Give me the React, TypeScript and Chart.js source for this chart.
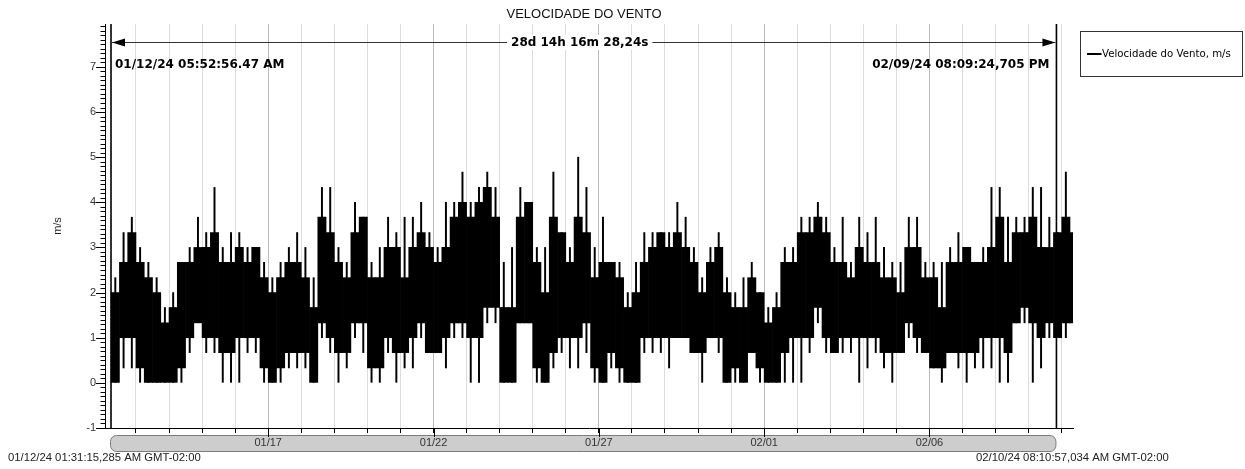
import React, { useEffect, useRef } from 'react';
import { Chart, registerables } from 'chart.js';

Chart.register(...registerables);

// Time axis in days since 01/12/24 00:00
const X_MIN = 0.063371; // 01/12/24 01:31:15,285 AM
const X_MAX = 29.340938; // 02/10/24 08:10:57,034 AM
const CURSOR_LEFT = 0.245098; // 01/12/24 05:52:56.47 AM
const CURSOR_RIGHT = 28.839869; // 02/09/24 08:09:24,705 PM
const BIN_START = 0.25;
const BIN_DAYS = 0.25;

const TICK_DAYS = [5, 10, 15, 20, 25];
const TICK_LABELS = ['01/17', '01/22', '01/27', '02/01', '02/06'];
const GRID_DAYS = [1, 2, 3, 4, 5, 6, 7, 8, 9, 10, 11, 12, 13, 14, 15, 16, 17, 18, 19, 20, 21, 22, 23, 24, 25, 26, 27, 28, 29];
const Y_TICKS = [-1, 0, 1, 2, 3, 4, 5, 6, 7];

const TITLE = 'VELOCIDADE DO VENTO';
const SERIES_LABEL = 'Velocidade do Vento, m/s';
const Y_TITLE = 'm/s';
const LEFT_STAMP = '01/12/24 05:52:56.47 AM';
const RIGHT_STAMP = '02/09/24 08:09:24,705 PM';
const SPAN_LABEL = '28d 14h 16m 28,24s';
const AXIS_START_TEXT = '01/12/24 01:31:15,285 AM GMT-02:00';
const AXIS_END_TEXT = '02/10/24 08:10:57,034 AM GMT-02:00';

// Wind speed envelope per 6-hour bin (m/s): dense band and extreme spikes
const CORE_LO = [
  0, 1, 1, 0.33, 0, 0, 0, 0, 0.33, 1,
  1.33, 1, 1, 0.67, 0.67, 1, 1, 1, 0.33, 0,
  0.33, 0.67, 0.67, 0.67, 0, 1.33, 1, 0.67, 0.67, 1.33,
  1.33, 0.33, 0.33, 1, 0.67, 0.67, 1, 1.33, 0.67, 0.67,
  1, 1.33, 1.33, 1, 1, 1.67, 1.67, 0, 0, 1.33,
  1.33, 0.33, 0, 0.67, 1, 1, 1, 1.33, 0.33, 0,
  0.67, 0.33, 0, 0, 1, 1, 1, 1, 1, 1,
  0.67, 0.67, 1, 1, 0, 0.33, 0, 0.67, 0.33, 0,
  0, 0.67, 1, 1, 1, 1.67, 1, 0.67, 1, 1,
  1, 1, 1, 0.67, 0.67, 0.67, 1.33, 1, 0.67, 0.33,
  0.33, 0.67, 0.67, 0.67, 0.67, 1, 1, 1, 0.67, 1.33,
  1.67, 1.33, 1, 1.33, 1, 1.33, 1.33,
];
const CORE_HI = [
  2, 2.67, 3.33, 2.67, 2.33, 2, 1.33, 1.67, 2.67, 2.67,
  3, 3, 3.33, 2.67, 2.67, 3, 2.67, 3, 2.33, 2,
  2.33, 2.67, 2.67, 2.33, 1.67, 3.67, 3.33, 2.67, 2.33, 3.33,
  3.67, 2.33, 2.33, 3, 3, 2.33, 3, 3.33, 3, 2.67,
  3, 3.67, 4, 3.67, 4, 4.33, 3.67, 1.67, 1.67, 3.67,
  4, 2.67, 2, 3.67, 3.33, 2.67, 3.67, 3.33, 2.33, 2.67,
  2.67, 2.33, 1.67, 2, 2.67, 3, 3.33, 3, 3.33, 3,
  2.67, 2, 2.67, 3, 2, 1.67, 1.67, 2.33, 2, 1.33,
  1.67, 2.67, 2.67, 3.33, 3.33, 3.67, 3.33, 2.67, 2.67, 2.33,
  3, 2.67, 2.67, 2.33, 2.33, 2, 3, 3, 2.33, 2.33,
  1.67, 2.67, 2.67, 3, 2.67, 2.67, 3, 3.67, 2.67, 3.33,
  3.33, 3.67, 3, 3, 3.33, 3.67, 3.33,
];
const SPIKE_LO = [
  0, 0.33, 0.33, 0, 0, 0, 0, 0, 0, 0.67,
  1.33, 0.67, 0.67, 0, 0, 0, 0.67, 0.67, 0, 0,
  0, 0.33, 0.33, 0.33, 0, 1, 0.67, 0, 0.33, 1,
  0.67, 0, 0, 0.67, 0, 0.33, 0.33, 1, 0.67, 0.67,
  0.33, 1, 1, 0, 0, 1.33, 1.33, 0, 0, 1.33,
  1.33, 0, 0, 0.33, 0.67, 0.33, 0.33, 0.67, 0, 0,
  0.33, 0, 0, 0, 0.67, 0.67, 0.67, 0.33, 1, 1,
  0.67, 0, 1, 0.67, 0, 0, 0, 0.67, 0, 0,
  0, 0, 0, 0, 0.67, 1.33, 0.67, 0.67, 0.67, 0.67,
  0, 0.33, 0.67, 0.33, 0, 0.67, 1, 0.67, 0.67, 0.33,
  0, 0.67, 0.33, 0, 0.33, 0.33, 0.33, 0, 0, 1.33,
  1.33, 0, 0.33, 1, 1, 1, 1.33,
];
const SPIKE_HI = [
  2.33, 3.33, 3.67, 3, 2.67, 2.33, 1.67, 2, 2.67, 3,
  3.67, 3.33, 4.33, 3, 3.33, 3.33, 3, 3, 2.67, 2.33,
  2.67, 3, 3.33, 3, 2.33, 4.33, 4.33, 3, 2.67, 4,
  3.67, 2.67, 3, 3.67, 3.33, 3.67, 3.67, 4, 3.33, 3,
  4, 4, 4.67, 4, 4.33, 4.67, 4.33, 2.67, 3, 4.33,
  4, 3, 3, 4.67, 3.33, 3, 5, 4.33, 3, 3.67,
  2.67, 2.67, 2, 2.67, 3.33, 3.33, 3.33, 3.33, 4, 3.67,
  3, 2.33, 3, 3.33, 2.33, 2, 2.33, 2.67, 2, 1.67,
  2, 3, 3, 3.67, 3.67, 4, 3.67, 3, 3.67, 2.67,
  3.67, 3.33, 3.67, 3, 2.67, 2.67, 3.67, 3.67, 2.67, 2.67,
  2.67, 3, 3.33, 3, 2.67, 3, 4.33, 4.33, 3.67, 3.67,
  3.67, 4.33, 4.33, 3.67, 3.33, 4.67, 4.33,
];

const BOLD = 'bold 12px "DejaVu Sans"';
const SANS = '"Liberation Sans", Arial, sans-serif';

function roundedRect(ctx: CanvasRenderingContext2D, x: number, y: number, w: number, h: number, r: number) {
  ctx.beginPath();
  ctx.moveTo(x + r, y);
  ctx.lineTo(x + w - r, y);
  ctx.arcTo(x + w, y, x + w, y + r, r);
  ctx.lineTo(x + w, y + h - r);
  ctx.arcTo(x + w, y + h, x + w - r, y + h, r);
  ctx.lineTo(x + r, y + h);
  ctx.arcTo(x, y + h, x, y + h - r, r);
  ctx.lineTo(x, y + r);
  ctx.arcTo(x, y, x + r, y, r);
  ctx.closePath();
}

const overlay = {
  id: 'overlay',
  beforeDraw(chart: any) {
    const { ctx, chartArea: a } = chart;
    const xs = chart.scales.x;
    const l = xs.getPixelForValue(CURSOR_LEFT);
    const r = xs.getPixelForValue(CURSOR_RIGHT);
    ctx.save();
    ctx.fillStyle = '#ffffff';
    ctx.fillRect(0, 0, chart.width, chart.height);
    roundedRect(ctx, Math.round(l) - 0.5, a.bottom + 7.5, r - l, 16, 6);
    ctx.fillStyle = '#cdcdcd';
    ctx.fill();
    ctx.strokeStyle = '#7c7c7c';
    ctx.lineWidth = 1;
    ctx.stroke();
    ctx.restore();
  },
  afterDraw(chart: any) {
    const { ctx, chartArea: a } = chart;
    const xs = chart.scales.x;
    const ys = chart.scales.y;
    const l = xs.getPixelForValue(CURSOR_LEFT);
    const r = xs.getPixelForValue(CURSOR_RIGHT);
    ctx.save();

    // y-axis major / minor tick marks
    ctx.strokeStyle = '#000';
    ctx.lineWidth = 1;
    ctx.beginPath();
    for (let k = Math.round(ys.min * 10); k <= Math.floor(ys.max * 10); k++) {
      const y = Math.round(ys.getPixelForValue(k / 10)) + 0.5;
      const len = k % 10 === 0 ? 9 : 4.5;
      ctx.moveTo(a.left - len, y);
      ctx.lineTo(a.left, y);
    }
    ctx.stroke();

    // longer ticks at labelled dates
    ctx.beginPath();
    TICK_DAYS.forEach((d) => {
      const x = Math.round(xs.getPixelForValue(d)) + 0.5;
      ctx.moveTo(x, a.bottom);
      ctx.lineTo(x, a.bottom + 9);
    });
    ctx.stroke();

    // cursors
    ctx.lineWidth = 1.6;
    ctx.strokeStyle = '#000';
    [l, r].forEach((x) => {
      ctx.beginPath();
      ctx.moveTo(x, a.top);
      ctx.lineTo(x, a.bottom);
      ctx.stroke();
    });

    // measurement arrow
    const my = a.top + 18;
    ctx.lineWidth = 1;
    ctx.strokeStyle = '#333';
    ctx.beginPath();
    ctx.moveTo(l + 1, my + 0.5);
    ctx.lineTo(r - 1, my + 0.5);
    ctx.stroke();
    ctx.fillStyle = '#000';
    ctx.beginPath();
    ctx.moveTo(l + 1, my + 0.5);
    ctx.lineTo(l + 14, my - 3.5);
    ctx.lineTo(l + 14, my + 4.5);
    ctx.closePath();
    ctx.fill();
    ctx.beginPath();
    ctx.moveTo(r - 1, my + 0.5);
    ctx.lineTo(r - 14, my - 3.5);
    ctx.lineTo(r - 14, my + 4.5);
    ctx.closePath();
    ctx.fill();

    ctx.font = BOLD;
    ctx.textBaseline = 'middle';
    const mid = (l + r) / 2 - 4;
    const tw = ctx.measureText(SPAN_LABEL).width;
    ctx.fillStyle = '#fff';
    ctx.fillRect(mid - tw / 2 - 4, my - 7, tw + 8, 15);
    ctx.fillStyle = '#000';
    ctx.textAlign = 'center';
    ctx.fillText(SPAN_LABEL, mid, my + 1);

    // cursor time stamps
    ctx.textAlign = 'left';
    ctx.fillText(LEFT_STAMP, l + 4, a.top + 41);
    ctx.textAlign = 'right';
    ctx.fillText(RIGHT_STAMP, r - 7, a.top + 41);

    // title
    ctx.font = '13px ' + SANS;
    ctx.fillStyle = '#111';
    ctx.textAlign = 'center';
    ctx.fillText(TITLE, (a.left + a.right) / 2 - 5, 14);

    // y-axis title
    ctx.save();
    ctx.translate(58, 226);
    ctx.rotate(-Math.PI / 2);
    ctx.font = '11px ' + SANS;
    ctx.fillStyle = '#222';
    ctx.textAlign = 'center';
    ctx.fillText(Y_TITLE, 0, 0);
    ctx.restore();

    // legend
    const lx = a.right + 7.5;
    const ly = a.top + 7.5;
    ctx.strokeStyle = '#333';
    ctx.lineWidth = 1;
    ctx.strokeRect(lx, ly, 162, 45);
    ctx.strokeStyle = '#000';
    ctx.lineWidth = 2;
    ctx.beginPath();
    ctx.moveTo(lx + 6.5, ly + 22.5);
    ctx.lineTo(lx + 21, ly + 22.5);
    ctx.stroke();
    ctx.font = '10.2px "DejaVu Sans"';
    ctx.fillStyle = '#000';
    ctx.textAlign = 'left';
    ctx.fillText(SERIES_LABEL, lx + 21.5, ly + 23);

    // axis range texts
    ctx.font = '11.3px ' + SANS;
    ctx.fillStyle = '#222';
    ctx.textAlign = 'left';
    ctx.fillText(AXIS_START_TEXT, 8, 458);
    ctx.fillText(AXIS_END_TEXT, 976, 458);

    ctx.restore();
  },
};

export default function App() {
  const ref = useRef<HTMLCanvasElement>(null);

  useEffect(() => {
    document.body.style.margin = '0';
    const canvas = ref.current;
    if (!canvas) return;
    const centers = CORE_LO.map((_, i) => BIN_START + BIN_DAYS * (i + 0.5));
    const core = centers.map((x, i) => ({ x, y: [CORE_LO[i], CORE_HI[i]] }));
    const spikes = centers.map((x, i) => ({ x, y: [SPIKE_LO[i], SPIKE_HI[i]] }));

    const chart = new Chart(canvas, {
      type: 'bar',
      data: {
        datasets: [
          {
            label: SERIES_LABEL,
            data: core as any,
            backgroundColor: '#000',
            borderWidth: 0,
            barPercentage: 1,
            categoryPercentage: 1,
            grouped: false,
          } as any,
          {
            label: SERIES_LABEL + ' (extremes)',
            data: spikes as any,
            backgroundColor: '#000',
            borderWidth: 0,
            barThickness: 1.3,
            grouped: false,
          } as any,
        ],
      },
      options: {
        responsive: false,
        animation: false,
        events: [],
        layout: { padding: { left: 0, right: 172, top: 24, bottom: 0 } },
        plugins: {
          legend: { display: false },
          tooltip: { enabled: false },
          title: { display: false },
        },
        scales: {
          x: {
            type: 'linear',
            min: X_MIN,
            max: X_MAX,
            offset: false,
            afterFit: (s: any) => { s.height = 41; },
            afterBuildTicks: (s: any) => { s.ticks = GRID_DAYS.map((v) => ({ value: v })); },
            grid: {
              offset: false,
              color: (c: any) => (c.tick && TICK_DAYS.includes(c.tick.value) ? '#b9b9b9' : '#dcdcdc'),
              lineWidth: 1,
              drawTicks: true,
              tickLength: 5,
              tickColor: '#000',
            },
            border: { display: true, color: '#000', width: 1 },
            ticks: {
              autoSkip: false,
              maxRotation: 0,
              minRotation: 0,
              padding: 3,
              color: '#333',
              font: { family: SANS, size: 11 },
              callback: (v: any) => {
                const k = TICK_DAYS.indexOf(Number(v));
                return k >= 0 ? TICK_LABELS[k] : '';
              },
            },
          },
          y: {
            type: 'linear',
            min: -1,
            max: 7.95,
            afterFit: (s: any) => { s.width = 105; },
            afterBuildTicks: (s: any) => { s.ticks = Y_TICKS.map((v) => ({ value: v })); },
            grid: { display: true, drawOnChartArea: false, drawTicks: false },
            border: { display: true, color: '#000', width: 1 },
            ticks: {
              padding: 9,
              color: '#333',
              font: { family: SANS, size: 11 },
              callback: (v: any) => String(v),
            },
          },
        },
      } as any,
      plugins: [overlay],
    });
    return () => chart.destroy();
  }, []);

  return (
    <div style={{ width: 1245, height: 469, position: 'relative' }}>
      <canvas ref={ref} width={1245} height={469} style={{ display: 'block', width: 1245, height: 469 }} />
    </div>
  );
}
